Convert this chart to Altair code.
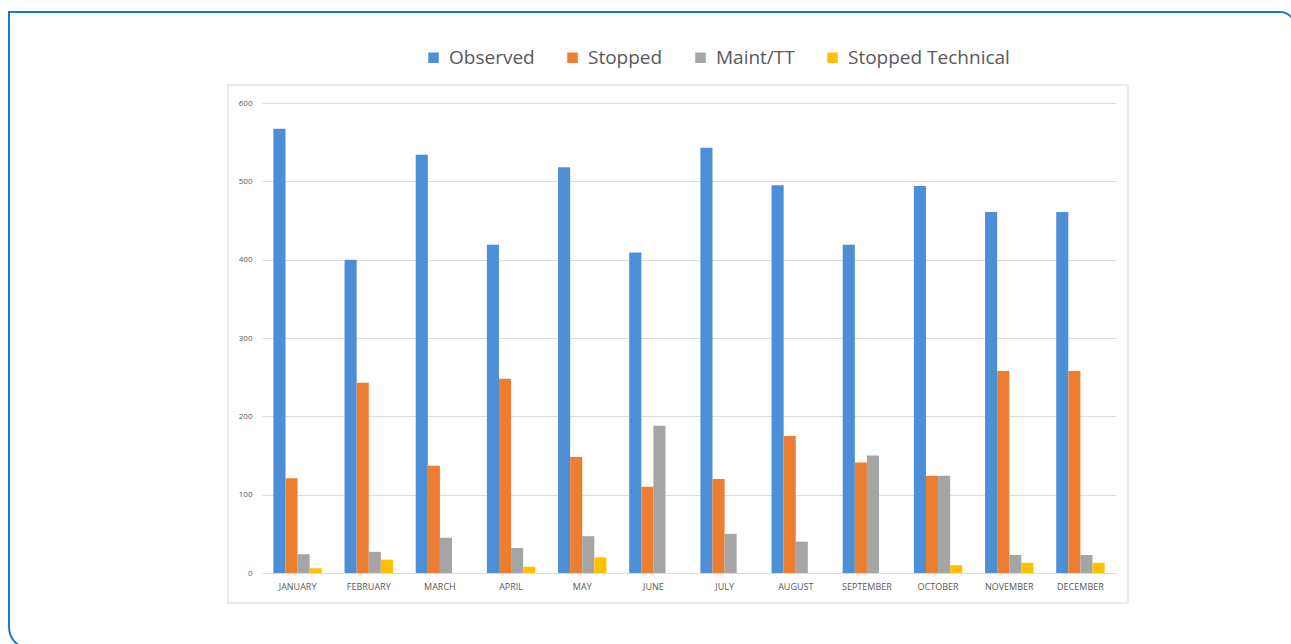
import altair as alt
import pandas as pd

months = ["JANUARY", "FEBRUARY", "MARCH", "APRIL", "MAY", "JUNE",
          "JULY", "AUGUST", "SEPTEMBER", "OCTOBER", "NOVEMBER", "DECEMBER"]
series = ["Observed", "Stopped", "Maint/TT", "Stopped Technical"]
colors = ["#4d8fd6", "#ed7d31", "#a5a5a5", "#ffc000"]

observed = [567, 400, 534, 419, 518, 409, 543, 495, 419, 494, 461, 461]
stopped = [121, 243, 137, 248, 148, 110, 120, 175, 141, 124, 258, 258]
maint_tt = [24, 27, 45, 32, 47, 188, 50, 40, 150, 124, 23, 23]
stopped_technical = [6, 17, 0, 8, 20, 0, 0, 0, 0, 10, 13, 13]

rows = []
for name, vals in zip(series, [observed, stopped, maint_tt, stopped_technical]):
    for m, v in zip(months, vals):
        rows.append({"Month": m, "Series": name, "Value": v})
df = pd.DataFrame(rows)

TEXT = "#595959"
FONT = "Open Sans"

bars = alt.Chart(df).mark_bar().encode(
    x=alt.X("Month:N", sort=months, title=None,
            scale=alt.Scale(paddingInner=0.32, paddingOuter=0.16),
            axis=alt.Axis(labelAngle=0, labelFontSize=9, labelColor=TEXT,
                          labelFont=FONT, labelPadding=9, ticks=False,
                          domain=False, grid=False)),
    xOffset=alt.XOffset("Series:N", sort=series,
                        scale=alt.Scale(paddingInner=0, paddingOuter=0)),
    y=alt.Y("Value:Q", title=None,
            scale=alt.Scale(domain=[0, 600]),
            axis=alt.Axis(values=[0, 100, 200, 300, 400, 500, 600],
                          labelFontSize=8, labelColor=TEXT, labelFont=FONT,
                          labelPadding=10, ticks=False, domain=False,
                          grid=True, gridColor="#dcdcdc", gridWidth=1)),
    color=alt.Color("Series:N", sort=series,
                    scale=alt.Scale(domain=series, range=colors),
                    legend=alt.Legend(orient="none", direction="horizontal",
                                      legendX=162, legendY=-55, title=None,
                                      symbolType="square", symbolSize=110,
                                      symbolStrokeWidth=0,
                                      labelFontSize=19, labelFont=FONT,
                                      labelColor=TEXT, labelOffset=6,
                                      labelLimit=400, columnPadding=28)),
)

one = pd.DataFrame({"k": [0]})

# light frame around the chart area
inner_frame = alt.Chart(one).mark_rect(
    filled=False, stroke="#e3e3e3", strokeWidth=1.5
).encode(
    x=alt.value(-34), x2=alt.value(866),
    y=alt.value(-18), y2=alt.value(500),
)

# blue page border with rounded corners
outer_frame = alt.Chart(one).mark_rect(
    filled=False, stroke="#1a78d2", strokeWidth=2,
    cornerRadiusTopRight=15, cornerRadiusBottomLeft=22,
).encode(
    x=alt.value(-253), x2=alt.value(1033),
    y=alt.value(-91), y2=alt.value(546),
)

chart = alt.layer(outer_frame, inner_frame, bars).properties(
    width=854, height=470,
    padding={"left": 262, "top": 103, "right": 175, "bottom": 71},
    autosize=alt.AutoSizeParams(type="none"),
    background="white",
).configure_view(stroke=None)

chart.save("out.html", embed_options={"renderer": "svg", "actions": False})
